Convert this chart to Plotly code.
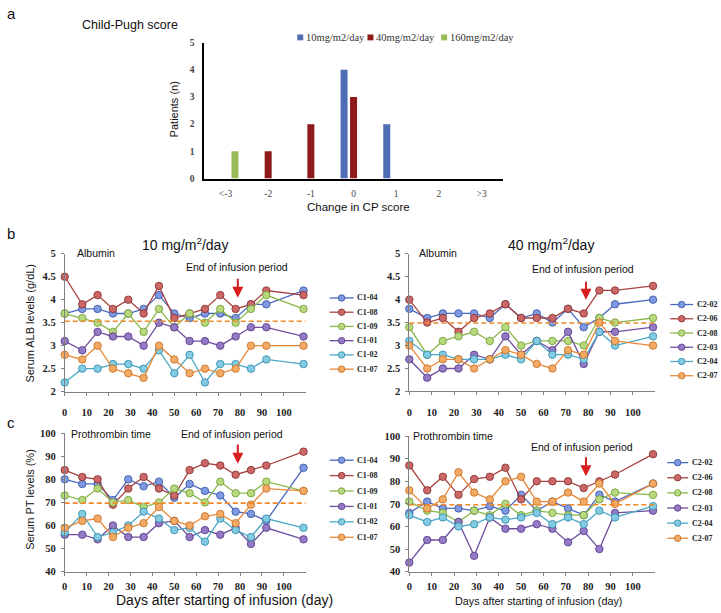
import plotly.graph_objects as go

W, H = 721, 613

# ---------------- data ----------------
cp_categories = ["<-3", "-2", "-1", "0", "1", "2", ">3"]
cp_10mg = [0, 0, 0, 4, 2, 0, 0]
cp_40mg = [0, 1, 2, 3, 0, 0, 0]
cp_160mg = [1, 0, 0, 0, 0, 0, 0]
dose_names = ["10mg/m2/day", "40mg/m2/day", "160mg/m2/day"]
bar_y_ticks = [0, 1, 2, 3, 4, 5]

days = [0, 8, 15, 22, 29, 36, 43, 50, 57, 64, 71, 78, 85, 92, 109]
day_ticks = [0, 10, 20, 30, 40, 50, 60, 70, 80, 90, 100]
alb_ticks = [2, 2.5, 3, 3.5, 4, 4.5, 5]
alb_tick_labels = ["2", "2.5", "3", "3.5", "4", "4.5", "5"]
pt_ticks = [40, 50, 60, 70, 80, 90, 100]

names_10 = ["C1-04", "C1-08", "C1-09", "C1-01", "C1-02", "C1-07"]
names_40 = ["C2-02", "C2-06", "C2-08", "C2-03", "C2-04", "C2-07"]

alb_c1_04 = [3.7, 3.8, 3.8, 3.7, 3.7, 3.8, 4.1, 3.7, 3.6, 3.7, 3.7, 3.6, 3.9, 3.9, 4.2]
alb_c1_08 = [4.5, 3.9, 4.1, 3.8, 4.0, 3.7, 4.3, 3.6, 3.7, 3.8, 4.1, 3.8, 3.9, 4.2, 4.1]
alb_c1_09 = [3.7, 3.6, 3.5, 3.3, 3.7, 3.3, 3.8, 3.4, 3.7, 3.5, 3.8, 3.5, 3.8, 4.1, 3.8]
alb_c1_01 = [3.1, 2.9, 3.3, 3.2, 3.2, 3.0, 3.5, 3.4, 3.1, 3.1, 3.0, 3.2, 3.4, 3.4, 3.2]
alb_c1_02 = [2.2, 2.5, 2.5, 2.6, 2.6, 2.5, 2.9, 2.4, 2.8, 2.2, 2.6, 2.6, 2.5, 2.7, 2.6]
alb_c1_07 = [2.8, 2.7, 3.0, 2.5, 2.4, 2.3, 3.0, 2.7, 2.4, 2.5, 2.4, 2.5, 3.0, 3.0, 3.0]

alb_c2_02 = [3.8, 3.6, 3.7, 3.7, 3.7, 3.6, 3.9, 3.6, 3.7, 3.5, 3.8, 3.4, 3.6, 3.9, 4.0]
alb_c2_06 = [4.0, 3.5, 3.6, 3.3, 3.6, 3.7, 3.9, 3.6, 3.6, 3.6, 3.8, 3.7, 4.2, 4.2, 4.3]
alb_c2_08 = [3.4, 2.8, 3.1, 3.2, 3.3, 3.1, 3.4, 3.0, 3.1, 3.1, 3.1, 3.0, 3.6, 3.5, 3.6]
alb_c2_03 = [2.7, 2.3, 2.5, 2.5, 2.8, 2.7, 3.2, 2.8, 3.1, 2.9, 3.3, 2.6, 3.3, 3.3, 3.4]
alb_c2_04 = [3.1, 2.8, 2.8, 2.7, 2.7, 2.7, 2.8, 2.7, 3.1, 2.8, 2.8, 2.7, 3.3, 3.0, 3.2]
alb_c2_07 = [3.0, 2.5, 2.7, 2.7, 2.5, 2.7, 2.9, 2.8, 2.6, 2.5, 2.9, 2.8, 3.5, 3.1, 3.0]

pt_c1_04 = [80, 78, 78, 71, 80, 77, 79, 72, 78, 75, 73, 66, 65, 62, 85]
pt_c1_08 = [84, 81, 80, 69, 76, 81, 76, 73, 84, 87, 86, 82, 84, 86, 92]
pt_c1_09 = [73, 71, 76, 70, 71, 68, 70, 76, 74, 70, 79, 74, 74, 79, 75]
pt_c1_01 = [56, 56, 54, 60, 55, 55, 61, 62, 55, 58, 56, 59, 52, 59, 54]
pt_c1_02 = [57, 65, 55, 57, 60, 66, 63, 58, 59, 53, 63, 58, 55, 63, 59]
pt_c1_07 = [59, 62, 63, 55, 59, 61, 68, 62, 60, 64, 65, 61, 69, 76, 75]

pt_c2_02 = [66, 71, 68, 68, 67, 69, 67, 74, 67, 71, 68, 65, 74, 71, 79]
pt_c2_06 = [87, 76, 82, 74, 81, 82, 86, 72, 80, 80, 80, 77, 80, 83, 92]
pt_c2_08 = [71, 67, 66, 62, 67, 65, 70, 65, 67, 66, 65, 65, 72, 75, 74]
pt_c2_03 = [44, 54, 54, 62, 47, 64, 59, 59, 61, 59, 53, 58, 50, 66, 67]
pt_c2_04 = [65, 62, 64, 60, 61, 64, 63, 64, 66, 61, 64, 61, 67, 64, 69]
pt_c2_07 = [76, 68, 72, 84, 75, 72, 80, 82, 71, 71, 75, 71, 79, 70, 79]

end_of_infusion_day = 79
ref_alb_10, ref_alb_40 = 3.53, 3.49
ref_pt_10, ref_pt_40 = 69.7, 69.6

# ---------------- styles ----------------
SANS = "Liberation Sans, Arial, sans-serif"
SERIF = "Liberation Serif, Times New Roman, serif"
bar_colors = ["#4F6DB5", "#8E1A1C", "#9BBB59"]
line_colors = ["#4A69C0", "#A84342", "#8DB84A", "#6F4FA0", "#4AA8C8", "#E8893A"]
fill_colors = ["#7E98E2", "#CB6766", "#B7D87C", "#9479C4", "#82CBE2", "#F3AA64"]
edge_colors = ["#34509F", "#842C2C", "#6F9A35", "#543689", "#2F88A8", "#C46C1E"]
ARROW = "#D81E1E"
DASH = "#F0892A"


def fx(px):
    return px / W


def fy(py):
    return 1 - py / H


fig = go.Figure()

# ---------------- panel a: bars ----------------
for vals, name, col in zip([cp_10mg, cp_40mg, cp_160mg], dose_names, bar_colors):
    fig.add_trace(go.Bar(x=cp_categories, y=vals, name=name, marker_color=col,
                         marker_line_width=0, xaxis="x", yaxis="y", showlegend=False))

# ---------------- panels b, c: lines ----------------
panels = [
    ("2", [alb_c1_04, alb_c1_08, alb_c1_09, alb_c1_01, alb_c1_02, alb_c1_07], names_10),
    ("3", [alb_c2_02, alb_c2_06, alb_c2_08, alb_c2_03, alb_c2_04, alb_c2_07], names_40),
    ("4", [pt_c1_04, pt_c1_08, pt_c1_09, pt_c1_01, pt_c1_02, pt_c1_07], names_10),
    ("5", [pt_c2_02, pt_c2_06, pt_c2_08, pt_c2_03, pt_c2_04, pt_c2_07], names_40),
]
for ax, series, names in panels:
    for i, (vals, nm) in enumerate(zip(series, names)):
        fig.add_trace(go.Scatter(
            x=days, y=vals, name=nm, mode="lines+markers",
            line=dict(color=line_colors[i], width=1.3),
            marker=dict(size=7.5, color=fill_colors[i], line=dict(color=edge_colors[i], width=0.8)),
            xaxis="x" + ax, yaxis="y" + ax, showlegend=False, cliponaxis=False))

line_axis = dict(showline=True, linecolor="#808080", linewidth=1, ticks="outside", ticklen=3,
                 tickcolor="#808080", showgrid=False, zeroline=False,
                 tickfont=dict(family=SERIF, size=10.5, color="#222", weight="bold"))

layout = dict(
    width=W, height=H, autosize=False, margin=dict(l=0, r=0, t=0, b=0),
    paper_bgcolor="white", plot_bgcolor="white", showlegend=False,
    barmode="group", bargap=0.335, bargroupgap=0.26,
    xaxis=dict(domain=[fx(202), fx(502)], type="category", showline=True, linecolor="black",
               linewidth=1.5, ticks="", showgrid=False, ticklabelstandoff=5,
               tickfont=dict(family=SERIF, size=9.5, color="#444")),
    yaxis=dict(domain=[fy(176.7), fy(38.3)], range=[0, 5], tickvals=bar_y_ticks, showline=True,
               linecolor="black", linewidth=1.5, ticks="", showgrid=False, zeroline=False,
               ticklabelstandoff=6, tickfont=dict(family=SERIF, size=9.5, color="#444", weight="bold")),
)
xdom = {"2": (62, 304), "3": (408, 655), "4": (62, 304), "5": (408, 655)}
ydom = {"2": (253.3, 393.7), "3": (253.3, 393.5), "4": (436, 577), "5": (439, 577)}
xstand = {"2": 8, "3": 8, "4": 2, "5": 2}
for ax in ["2", "3", "4", "5"]:
    layout["xaxis" + ax] = dict(line_axis, domain=[fx(xdom[ax][0]), fx(xdom[ax][1])], range=[0, 110],
                                tickvals=day_ticks, anchor="y" + ax, ticklabelstandoff=xstand[ax])
    if ax in ("2", "3"):
        layout["yaxis" + ax] = dict(line_axis, domain=[fy(ydom[ax][1]), fy(ydom[ax][0])], range=[2, 5],
                                    tickvals=alb_ticks, ticktext=alb_tick_labels, anchor="x" + ax,
                                    ticklabelstandoff=3)
    else:
        layout["yaxis" + ax] = dict(line_axis, domain=[fy(ydom[ax][1]), fy(ydom[ax][0])], range=[40, 100],
                                    tickvals=pt_ticks, anchor="x" + ax, ticklabelstandoff=3)
fig.update_layout(**layout)

# ---------------- reference dashed lines ----------------
for ax, val in [("2", ref_alb_10), ("3", ref_alb_40), ("4", ref_pt_10), ("5", ref_pt_40)]:
    fig.add_shape(type="line", xref="x" + ax, yref="y" + ax, x0=0, x1=110, y0=val, y1=val,
                  line=dict(color=DASH, width=1.6, dash="5px,3px"))

# ---------------- arrows ----------------
arrow_specs = [("2", 4.04, 4.49), ("3", 4.0, 4.42), ("4", 86.8, 95.7), ("5", 82.2, 91.3)]
for ax, tip, tail in arrow_specs:
    fig.add_annotation(x=end_of_infusion_day, y=tip, ax=end_of_infusion_day, ay=tail,
                       xref="x" + ax, yref="y" + ax, axref="x" + ax, ayref="y" + ax,
                       text="", showarrow=True, arrowhead=2, arrowsize=1.1, arrowwidth=2,
                       arrowcolor=ARROW)


def txt(x, y, s, size, xanchor="center", angle=0, family=SANS, weight="normal", color="#111"):
    fig.add_annotation(x=fx(x), y=fy(y), xref="paper", yref="paper", text=s, showarrow=False,
                       xanchor=xanchor, yanchor="middle", textangle=angle, borderpad=0,
                       font=dict(family=family, size=size, color=color, weight=weight))


# panel labels and titles
txt(3, 9, "a", 15, xanchor="left")
txt(3, 233, "b", 15, xanchor="left")
txt(3, 425, "c", 15, xanchor="left")
txt(78, 20, "Child-Pugh score", 12.5, xanchor="left")
txt(172, 106, "Patients (n)", 11, angle=-90)
txt(357, 206, "Change in CP score", 11.5)

txt(183, 243, "10 mg/m<sup>2</sup>/day", 14)
txt(550, 243, "40 mg/m<sup>2</sup>/day", 14)
txt(73, 253, "Albumin", 10.5, xanchor="left")
txt(417, 253, "Albumin", 10.5, xanchor="left")
txt(67, 437, "Prothrombin time", 10.5, xanchor="left")
txt(411, 439, "Prothrombin time", 10.5, xanchor="left")
for cx, cy in [(235, 267), (582, 269), (230, 437), (581, 450)]:
    txt(cx, cy, "End of infusion period", 10.5)
txt(27, 323.5, "Serum ALB levels (g/dL)", 11, angle=-90)
txt(27, 503, "Serum PT levels (%)", 11, angle=-90)
txt(222, 605.5, "Days after starting of infusion (day)", 14)
txt(538, 606.5, "Days after starting of infusion (day)", 10.8)

# bar legend
for (sx, tx0), name, col in zip([(298.5, 303), (369, 374), (443, 448)], dose_names, bar_colors):
    fig.add_shape(type="rect", xref="paper", yref="paper", x0=fx(sx - 3), x1=fx(sx + 3),
                  y0=fy(36), y1=fy(30), fillcolor=col, line_width=0)
    txt(tx0, 33, name, 10.5, xanchor="left", family=SERIF, color="#333")

# line legends: (x0, first y, step, line length, names)
legend_specs = [(328, 298.3, 14.5, 24, names_10), (670, 305, 14.5, 23, names_40),
                (328, 463.5, 15.7, 24, names_10), (667, 466, 15.4, 21, names_40)]
for x0, y0, step, ln, names in legend_specs:
    for i, nm in enumerate(names):
        yy = y0 + i * step
        fig.add_shape(type="line", xref="paper", yref="paper", x0=fx(x0), x1=fx(x0 + ln),
                      y0=fy(yy), y1=fy(yy), line=dict(color=line_colors[i], width=1.3))
        r = 3.3
        cx = x0 + ln / 2
        fig.add_shape(type="circle", xref="paper", yref="paper", x0=fx(cx - r), x1=fx(cx + r),
                      y0=fy(yy + r), y1=fy(yy - r), fillcolor=fill_colors[i],
                      line=dict(color=edge_colors[i], width=0.8))
        txt(x0 + ln + 2.5, yy, nm, 8, xanchor="left", family=SERIF, weight="bold", color="#222")

fig.write_html("out.html", config={"displayModeBar": False},
               post_script="document.body.style.margin='0';document.body.style.overflow='hidden';")
